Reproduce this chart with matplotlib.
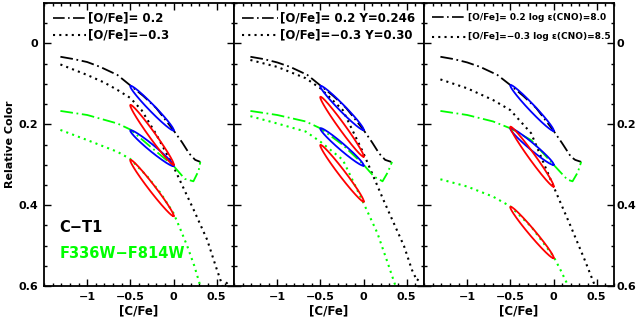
import numpy as np
import matplotlib
matplotlib.use("Agg")
import matplotlib.pyplot as plt
from matplotlib.ticker import MultipleLocator, FixedLocator, FuncFormatter

# ---- dati: [C/Fe] e colore relativo ----
# pannello 1
k1_dd_x = [-1.31, -1.15, -1.0, -0.85, -0.65, -0.5, -0.35, -0.2, 0.0, 0.1, 0.18, 0.25, 0.31]
k1_dd_y = [0.033, 0.039, 0.046, 0.058, 0.078, 0.104, 0.13, 0.16, 0.215, 0.245, 0.272, 0.288, 0.293]
k1_dot_x = [-1.31, -1.0, -0.8, -0.65, -0.5, -0.37, -0.2, 0.0, 0.12, 0.23, 0.39, 0.49, 0.57, 0.64]
k1_dot_y = [0.052, 0.078, 0.097, 0.115, 0.135, 0.165, 0.225, 0.305, 0.36, 0.41, 0.486, 0.552, 0.602, 0.588]
g1_dd_x = [-1.31, -1.0, -0.65, -0.5, -0.27, 0.0, 0.13, 0.23, 0.29, 0.31]
g1_dd_y = [0.167, 0.177, 0.198, 0.213, 0.255, 0.303, 0.335, 0.341, 0.315, 0.293]
g1_dot_x = [-1.31, -1.0, -0.65, -0.5, -0.3, -0.15, 0.0, 0.08, 0.16, 0.24, 0.31]
g1_dot_y = [0.214, 0.239, 0.268, 0.286, 0.33, 0.37, 0.42, 0.46, 0.502, 0.55, 0.6]
blue1 = [[(-0.5, 0.105), (0.0, 0.215)], [(-0.5, 0.215), (0.0, 0.303)]]
red1 = [[(-0.5, 0.152), (0.0, 0.30)], [(-0.5, 0.288), (0.0, 0.427)]]

# pannello 2
k2_dd_x = [-1.31, -1.15, -1.0, -0.85, -0.65, -0.5, -0.35, -0.2, 0.0, 0.1, 0.18, 0.25, 0.32]
k2_dd_y = [0.033, 0.039, 0.047, 0.058, 0.078, 0.104, 0.13, 0.16, 0.214, 0.245, 0.272, 0.288, 0.293]
k2_dot_x = [-1.31, -1.0, -0.67, -0.5, -0.24, 0.0, 0.23, 0.47, 0.56, 0.62, 0.66]
k2_dot_y = [0.041, 0.058, 0.086, 0.111, 0.165, 0.272, 0.387, 0.502, 0.56, 0.587, 0.575]
g2_dd_x = [-1.31, -1.0, -0.67, -0.5, -0.24, 0.0, 0.12, 0.22, 0.28, 0.33]
g2_dd_y = [0.167, 0.177, 0.193, 0.21, 0.251, 0.30, 0.329, 0.341, 0.319, 0.293]
g2_dot_x = [-1.31, -1.0, -0.67, -0.5, -0.24, 0.0, 0.16, 0.28, 0.37]
g2_dot_y = [0.18, 0.198, 0.218, 0.243, 0.288, 0.395, 0.469, 0.543, 0.6]
blue2 = [[(-0.5, 0.105), (0.0, 0.214)], [(-0.5, 0.21), (0.0, 0.302)]]
red2 = [[(-0.5, 0.132), (0.0, 0.28)], [(-0.5, 0.251), (0.0, 0.391)]]

# pannello 3
k3_dd_x = [-1.31, -1.15, -1.0, -0.85, -0.65, -0.5, -0.35, -0.2, 0.0, 0.1, 0.2, 0.25, 0.32]
k3_dd_y = [0.033, 0.039, 0.047, 0.058, 0.078, 0.103, 0.13, 0.16, 0.216, 0.247, 0.28, 0.288, 0.293]
k3_dot_x = [-1.31, -1.0, -0.7, -0.5, -0.26, 0.0, 0.2, 0.36, 0.48]
k3_dot_y = [0.089, 0.111, 0.14, 0.165, 0.222, 0.354, 0.453, 0.535, 0.6]
g3_dd_x = [-1.31, -1.0, -0.7, -0.5, -0.26, 0.0, 0.16, 0.22, 0.28, 0.32]
g3_dd_y = [0.167, 0.177, 0.193, 0.21, 0.239, 0.30, 0.337, 0.341, 0.319, 0.293]
g3_dot_x = [-1.31, -1.0, -0.7, -0.5, -0.26, 0.0, 0.08, 0.17]
g3_dot_y = [0.336, 0.354, 0.379, 0.403, 0.453, 0.527, 0.56, 0.6]
blue3 = [[(-0.5, 0.103), (0.0, 0.216)], [(-0.5, 0.21), (0.0, 0.30)]]
red3 = [[(-0.5, 0.206), (0.0, 0.354)], [(-0.5, 0.404), (0.0, 0.531)]]

legend1 = ["[O/Fe]= 0.2", "[O/Fe]=\u22120.3"]
legend2 = ["[O/Fe]= 0.2 Y=0.246", "[O/Fe]=\u22120.3 Y=0.30"]
legend3 = ["[O/Fe]= 0.2 log \u03b5(CNO)=8.0", "[O/Fe]=\u22120.3 log \u03b5(CNO)=8.5"]

x_major = [-1.0, -0.5, 0.0, 0.5]
y_major = [0.0, 0.2, 0.4, 0.6]

GREEN = "#00ff00"
DD = (0, (7, 2, 1, 2))
DOT = (0, (1, 2))

plt.rcParams['font.family'] = ['DejaVu Sans']
plt.rcParams['font.weight'] = 'bold'

fig = plt.figure(figsize=(6.37, 3.2), dpi=100)


def ellisse(ax, p0, p1, color, hw=3.2):
    # disegna un'ellisse sottile tra due punti (larghezza in pixel)
    a = ax.transData.transform(p0)
    b = ax.transData.transform(p1)
    c = (a + b) / 2
    u = (b - a) / 2
    n = np.array([-u[1], u[0]]) / np.hypot(*u) * hw
    t = np.linspace(0, 2 * np.pi, 200)
    pts = c + np.outer(np.cos(t), u) + np.outer(np.sin(t), n)
    d = ax.transData.inverted().transform(pts)
    ax.plot(d[:, 0], d[:, 1], color=color, lw=1.3)


fmt = FuncFormatter(lambda v, p: f"{v:g}".replace('-', '\u2212'))

panels = [
    (k1_dd_x, k1_dd_y, k1_dot_x, k1_dot_y, g1_dd_x, g1_dd_y, g1_dot_x, g1_dot_y, blue1, red1, legend1),
    (k2_dd_x, k2_dd_y, k2_dot_x, k2_dot_y, g2_dd_x, g2_dd_y, g2_dot_x, g2_dot_y, blue2, red2, legend2),
    (k3_dd_x, k3_dd_y, k3_dot_x, k3_dot_y, g3_dd_x, g3_dd_y, g3_dot_x, g3_dot_y, blue3, red3, legend3),
]
lefts = [44, 234, 424]
leg_x = [(0.047, 0.221, 0.232), (0.04, 0.232, 0.24), (0.04, 0.226, 0.232)]
leg_y = [(0.947, 0.887), (0.947, 0.887), (0.95, 0.88)]
leg_fs = [8.5, 8.5, 6.5]

for i, (kx, ky, kdx, kdy, gx, gy, gdx, gdy, blu, red, leg) in enumerate(panels):
    ax = fig.add_axes([lefts[i] / 637, 34 / 320, 190 / 637, 283 / 320])
    ax.set_xlim(-1.5, 0.7)
    ax.set_ylim(0.6, -0.1)

    ax.plot(kx, ky, color='black', lw=1.3, linestyle=DD)
    ax.plot(kdx, kdy, color='black', lw=1.5, linestyle=DOT)
    ax.plot(gx, gy, color=GREEN, lw=1.3, linestyle=DD)
    ax.plot(gdx, gdy, color=GREEN, lw=1.5, linestyle=DOT)
    for p0, p1 in blu:
        ellisse(ax, p0, p1, 'blue')
    for p0, p1 in red:
        ellisse(ax, p0, p1, 'red')

    # legenda fatta a mano
    x0, x1, xt = leg_x[i]
    ya, yb = leg_y[i]
    ax.plot([x0, x1], [ya, ya], transform=ax.transAxes, color='black', lw=1.2, linestyle=DD)
    ax.plot([x0, x1], [yb, yb], transform=ax.transAxes, color='black', lw=1.5, linestyle=DOT)
    ax.text(xt, ya, leg[0], transform=ax.transAxes, va='center', ha='left', fontsize=leg_fs[i], fontweight='bold')
    ax.text(xt, yb, leg[1], transform=ax.transAxes, va='center', ha='left', fontsize=leg_fs[i], fontweight='bold')

    ax.xaxis.set_major_locator(FixedLocator(x_major))
    ax.xaxis.set_minor_locator(MultipleLocator(0.1))
    ax.yaxis.set_major_locator(FixedLocator(y_major))
    ax.yaxis.set_minor_locator(MultipleLocator(0.05))
    ax.xaxis.set_major_formatter(fmt)
    ax.yaxis.set_major_formatter(fmt)
    ax.tick_params(which='both', direction='in', top=True, right=True, labelsize=8, width=1.0)
    ax.tick_params(which='major', length=5, pad=4)
    ax.tick_params(which='minor', length=2.5)
    for s in ax.spines.values():
        s.set_linewidth(1.3)
    ax.set_xlabel('[C/Fe]', fontsize=8.5, fontweight='bold', labelpad=2)

    if i == 0:
        ax.set_ylabel('Relative Color', fontsize=8, fontweight='bold', labelpad=3)
        ax.text(0.08, 0.205, 'C\u2212T1', transform=ax.transAxes, fontsize=10.5, fontweight='bold', va='center')
        ax.text(0.08, 0.115, 'F336W\u2212F814W', transform=ax.transAxes, fontsize=10.5, fontweight='bold',
                color=GREEN, va='center')
    elif i == 1:
        ax.tick_params(labelleft=False)
    else:
        ax.tick_params(labelleft=False, labelright=True)
        ax.tick_params(axis='y', which='major', pad=2)

fig.savefig('out.png', dpi=100)
